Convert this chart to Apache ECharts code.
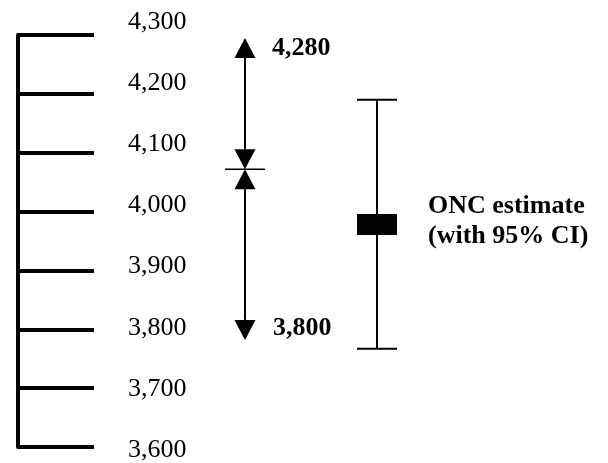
<!DOCTYPE html>
<html>
<head>
<meta charset="utf-8">
<script src="https://cdn.jsdelivr.net/npm/echarts@6/dist/echarts.min.js"></script>
<style>
html,body{margin:0;padding:0;background:#fff;}
#chart{width:608px;height:463px;}
</style>
</head>
<body>
<div id="chart"></div>
<script>
// ---- data ----
const tickValues = [3600, 3700, 3800, 3900, 4000, 4100, 4200, 4300];
const tickLabels = ['3,600', '3,700', '3,800', '3,900', '4,000', '4,100', '4,200', '4,300'];
// range arrows: upper tip, meeting point, lower tip
const rangeValues = [4295, 4072, 3782];
const rangeLabels = ['4,280', '3,800'];
// ONC estimate: point, upper CI, lower CI
const estimateValues = [3978, 4190, 3767];
const estimateLabels = ['ONC estimate', '(with 95% CI)'];

// ---- layout ----
const layout = { rangeX: 0.3847, estimateX: 0.6085 };
const FONT = '"Liberation Serif", "Times New Roman", serif';
const FS = 26;

const chart = echarts.init(document.getElementById('chart'), null, { renderer: 'canvas' });

function renderRange(params, api) {
  const top = api.coord([api.value(0), api.value(1)]);
  const mid = api.coord([api.value(0), api.value(2)]);
  const bot = api.coord([api.value(0), api.value(3)]);
  const x = top[0];
  const hw = 10.5, hh = 20;
  const ls = { stroke: '#000', lineWidth: 2 };
  return {
    type: 'group',
    children: [
      { type: 'line', shape: { x1: x, y1: top[1] + hh, x2: x, y2: mid[1] - hh }, style: ls },
      { type: 'line', shape: { x1: x, y1: mid[1] + hh, x2: x, y2: bot[1] - hh }, style: ls },
      { type: 'polygon', shape: { points: [[x, top[1]], [x - hw, top[1] + hh], [x + hw, top[1] + hh]] }, style: { fill: '#000' } },
      { type: 'polygon', shape: { points: [[x, mid[1]], [x - hw, mid[1] - hh], [x + hw, mid[1] - hh]] }, style: { fill: '#000' } },
      { type: 'polygon', shape: { points: [[x, mid[1]], [x - hw, mid[1] + hh], [x + hw, mid[1] + hh]] }, style: { fill: '#000' } },
      { type: 'polygon', shape: { points: [[x, bot[1]], [x - hw, bot[1] - hh], [x + hw, bot[1] - hh]] }, style: { fill: '#000' } },
      { type: 'line', shape: { x1: x - 20, y1: mid[1], x2: x + 20, y2: mid[1] }, style: { stroke: '#000', lineWidth: 1.5 } },
      { type: 'text', x: x + 27, y: top[1] + 10, style: { text: rangeLabels[0], font: 'bold ' + FS + 'px ' + FONT, fill: '#000', align: 'left', verticalAlign: 'middle' } },
      { type: 'text', x: x + 28, y: bot[1] - 12, style: { text: rangeLabels[1], font: 'bold ' + FS + 'px ' + FONT, fill: '#000', align: 'left', verticalAlign: 'middle' } }
    ]
  };
}

function renderEstimate(params, api) {
  const pt = api.coord([api.value(0), api.value(1)]);
  const hi = api.coord([api.value(0), api.value(2)]);
  const lo = api.coord([api.value(0), api.value(3)]);
  const x = pt[0];
  const ls = { stroke: '#000', lineWidth: 2 };
  return {
    type: 'group',
    children: [
      { type: 'line', shape: { x1: x, y1: hi[1], x2: x, y2: lo[1] }, style: ls },
      { type: 'line', shape: { x1: x - 20, y1: hi[1], x2: x + 20, y2: hi[1] }, style: ls },
      { type: 'line', shape: { x1: x - 20, y1: lo[1], x2: x + 20, y2: lo[1] }, style: ls },
      { type: 'rect', shape: { x: x - 20, y: pt[1] - 10.5, width: 40, height: 21 }, style: { fill: '#000' } },
      { type: 'text', x: x + 51, y: pt[1] - 18, style: { text: estimateLabels[0], font: 'bold ' + FS + 'px ' + FONT, fill: '#000', align: 'left', verticalAlign: 'middle' } },
      { type: 'text', x: x + 51, y: pt[1] + 12, style: { text: estimateLabels[1], font: 'bold ' + FS + 'px ' + FONT, fill: '#000', align: 'left', verticalAlign: 'middle' } }
    ]
  };
}

const option = {
  backgroundColor: '#fff',
  animation: false,
  grid: [
    { left: 18, right: 0, top: 35, bottom: 16 },
    { left: 18, right: 0, top: 22, bottom: 11 }
  ],
  xAxis: [
    { type: 'value', gridIndex: 0, min: 0, max: 1, show: false },
    { type: 'value', gridIndex: 1, min: 0, max: 1, show: false }
  ],
  yAxis: [
    {
      type: 'value', gridIndex: 0,
      min: tickValues[0], max: tickValues[tickValues.length - 1], interval: 100,
      axisLine: { show: true, lineStyle: { color: '#000', width: 4 } },
      axisTick: { show: true, inside: true, length: 76, lineStyle: { color: '#000', width: 4 } },
      axisLabel: { show: false },
      splitLine: { show: false }
    },
    {
      type: 'value', gridIndex: 1,
      min: tickValues[0], max: tickValues[tickValues.length - 1], interval: 100,
      axisLine: { show: false },
      axisTick: { show: false },
      splitLine: { show: false },
      axisLabel: {
        show: true, inside: true, margin: 110,
        color: '#000', fontFamily: FONT, fontSize: FS,
        formatter: function (v) {
          const i = tickValues.indexOf(v);
          return i >= 0 ? tickLabels[i] : '';
        }
      }
    }
  ],
  series: [
    {
      type: 'custom', xAxisIndex: 0, yAxisIndex: 0, clip: false,
      renderItem: renderRange,
      data: [[layout.rangeX, rangeValues[0], rangeValues[1], rangeValues[2]]]
    },
    {
      type: 'custom', xAxisIndex: 0, yAxisIndex: 0, clip: false,
      renderItem: renderEstimate,
      data: [[layout.estimateX, estimateValues[0], estimateValues[1], estimateValues[2]]]
    }
  ]
};
chart.setOption(option);
</script>
</body>
</html>
